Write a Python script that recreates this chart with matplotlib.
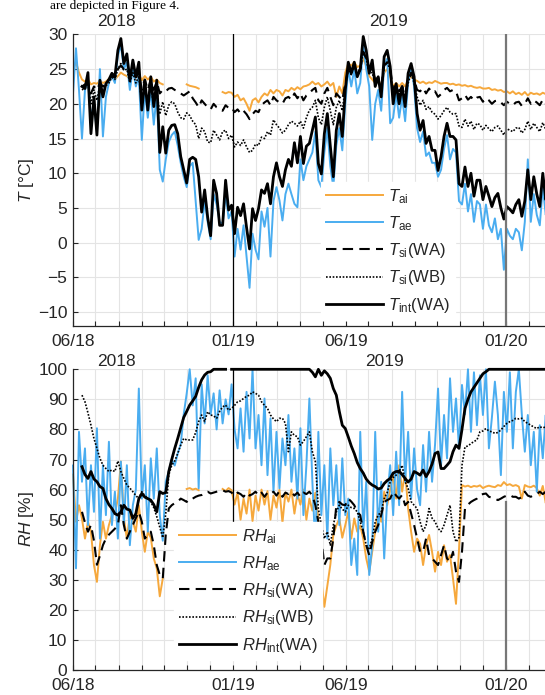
import numpy as np
import pandas as pd
import matplotlib
matplotlib.use("Agg")
import matplotlib.pyplot as plt
import matplotlib.dates as mdates

nan = np.nan

# one sample every 4 days, starting 1 June 2018
start_date = "2018-06-01"
n_pts = 161

# ---- temperatures [degC] ----
t_ai = [25.0, 26.0, 24.5, 23.5, 23.2, 23.5, 22.8, 23.0, 22.9, 23.3,
        23.0, 23.2, 23.6, 23.8, 23.5, 24.0, 24.5, 24.2, 24.0, 23.6,
        24.2, 23.8, 24.3, 23.4, 24.0, 23.5, 23.9, 23.2, 23.5, 23.0,
        22.8, nan, nan, nan, nan, nan, nan, nan, 22.8, 22.6,
        22.5, 22.4, 22.2, nan, nan, nan, nan, nan, nan, nan,
        21.7, 21.5, 21.7, 21.6, 21.0, 21.3, 20.5, 20.8, 20.0, 19.0,
        20.5, 20.8, 20.2, 21.0, 21.5, 21.2, 22.0, 21.5, 22.0, 21.8,
        21.2, 22.0, 21.8, 22.3, 22.0, 22.4, 22.1, 22.5, 22.6, 22.8,
        23.2, 22.8, 23.0, 22.5, 22.8, 23.2, 22.6, 23.0, 21.0, 22.5,
        21.5, 24.5, 25.8, 25.5, 26.0, 25.3, 25.5, 26.5, 25.5, 24.0,
        23.5, 23.0, 23.5, 22.5, 24.5, 25.0, 24.0, 22.5, 23.0, 22.5,
        23.0, 22.5, 23.5, 24.0, 23.5, 23.3, 23.0, 23.2, 22.9, 23.1,
        23.0, 23.3, 23.1, 22.9, 23.0, 23.0, 22.8, 22.9, 22.7, 22.8,
        22.6, 22.7, 22.5, 22.6, 22.4, 22.3, 22.4, 22.2, 22.2, 22.3,
        22.0, 22.1, 21.9, 22.0, 21.7, 21.8, 21.5, 21.8, 21.4, 21.6,
        21.3, 21.7, 21.2, 21.6, 21.4, 21.5, 21.3, 21.6, 21.4, 21.5, 21.3]

t_ae = [21.5, 28.0, 22.0, 15.0, 22.0, 23.5, 18.0, 20.0, 16.0, 25.0,
        15.3, 21.0, 23.0, 24.0, 23.0, 27.0, 28.5, 25.0, 26.0, 22.0,
        25.0, 22.5, 24.0, 14.8, 22.0, 18.0, 22.0, 17.0, 21.5, 10.5,
        8.8, 12.0, 14.5, 15.5, 16.0, 14.0, 11.5, 9.5, 8.0, 11.0,
        11.5, 6.0, 0.4, 2.0, 6.0, 3.0, 0.5, 7.0, 5.5, 3.0,
        2.7, 7.0, 3.5, 4.5, -2.0, 2.0, -1.0, 2.5, -2.0, -6.5,
        1.3, -1.0, -2.4, 4.5, 2.3, 5.0, -2.0, 6.0, 8.0, 6.1,
        3.2, 7.0, 8.5, 7.0, 5.6, 5.1, 12.0, 9.0, 11.0, 12.0,
        13.0, 16.0, 9.0, 8.0, 13.0, 16.5, 11.0, 8.0, 14.0, 16.5,
        13.3, 20.0, 25.0, 22.5, 25.0, 21.5, 23.0, 28.5, 25.0, 22.5,
        14.8, 20.0, 22.0, 19.0, 25.5, 26.5, 17.2, 18.0, 21.5, 18.0,
        21.0, 17.5, 23.0, 25.5, 22.5, 16.5, 14.5, 16.0, 12.5, 13.0,
        11.5, 11.5, 9.5, 10.5, 13.5, 15.5, 12.0, 13.5, 13.0, 6.0,
        5.5, 8.5, 4.5, 7.0, 3.0, 6.0, 5.5, 2.0, 5.5, 2.5,
        1.5, 3.5, 0.5, 2.0, -3.9, 2.0, 1.0, 0.5, 2.0, 1.5,
        -1.1, 3.0, 12.0, 3.0, 7.0, 4.0, 2.5, 8.0, 4.0, 7.0, 3.5]

t_si_wa = [nan, nan, nan, 22.5, 22.8, 23.0, 21.5, 22.5, 22.0, 23.0,
           22.5, 23.0, 23.5, 24.0, 23.8, 25.0, 25.5, 25.0, 25.2, 24.0,
           24.8, 23.8, 24.5, 22.0, 23.5, 22.0, 23.5, 22.0, 23.2, 21.5,
           22.0, 21.8, 22.2, 22.3, 22.0, 21.8, 21.5, 21.2, 21.5, 21.8,
           20.8, 20.2, 19.5, 20.5, 20.0, 19.5, 19.2, 20.0, 19.5, 19.3,
           19.0, 19.8, 19.4, 19.5, 18.8, 19.2, 18.6, 19.0, 18.5, 17.8,
           18.5, 19.0, 18.8, 19.8, 20.2, 20.5, 19.8, 21.0, 20.5, 20.2,
           20.0, 20.8, 21.0, 20.6, 21.5, 20.8, 21.5, 20.5, 21.2, 21.5,
           22.0, 22.3, 20.5, 20.0, 21.5, 22.3, 21.0, 19.8, 21.5, 21.0,
           20.5, 23.0, 25.0, 24.5, 25.5, 24.5, 25.0, 27.5, 26.5, 24.8,
           25.0, 23.5, 23.8, 22.5, 25.5, 26.0, 25.0, 22.0, 22.8, 21.8,
           22.5, 21.5, 23.5, 24.5, 23.5, 22.0, 21.8, 22.3, 21.5, 22.2,
           21.6, 21.8, 21.0, 21.4, 22.0, 22.3, 21.8, 22.0, 21.8, 20.5,
           20.8, 21.3, 20.6, 21.0, 20.5, 20.9, 21.0, 20.3, 20.8, 20.5,
           20.0, 20.4, 20.5, 20.2, 19.8, 20.3, 20.0, 19.8, 20.2, 20.3,
           19.7, 20.0, 20.8, 20.0, 20.5, 20.2, 19.8, 20.6, 20.0, 20.4, 20.0]

t_si_wb = [nan, nan, nan, 22.0, 22.3, 23.0, 20.0, 22.0, 20.5, 22.8,
           22.0, 22.6, 23.0, 23.8, 23.5, 25.0, 25.8, 24.8, 25.0, 23.0,
           24.5, 23.0, 24.0, 20.0, 22.8, 20.0, 22.5, 19.8, 22.0, 18.5,
           20.3, 18.3, 19.8, 20.3, 20.0, 18.8, 18.0, 17.8, 18.7, 18.3,
           17.5, 17.0, 15.0, 16.5, 16.0, 14.5, 14.4, 16.2, 15.5, 14.8,
           16.0, 16.2, 15.0, 15.5, 13.8, 14.5, 14.0, 14.8, 13.8, 13.0,
           13.3, 14.2, 14.0, 15.2, 15.0, 16.0, 15.5, 17.7, 17.0, 16.5,
           15.8, 16.2, 17.0, 17.5, 17.2, 16.8, 17.5, 16.5, 18.0, 19.1,
           19.5, 20.5, 18.0, 17.0, 19.5, 21.0, 19.0, 17.0, 19.5, 20.5,
           19.0, 22.5, 25.0, 24.2, 25.5, 24.0, 24.8, 27.5, 26.5, 24.5,
           24.5, 23.0, 23.5, 22.0, 25.3, 26.0, 24.8, 21.5, 22.5, 21.2,
           22.0, 21.0, 23.0, 24.3, 23.0, 21.0, 19.8, 20.5, 19.2, 19.6,
           18.8, 18.5, 17.8, 18.3, 19.0, 19.5, 18.8, 18.5, 18.6, 16.8,
           16.6, 17.8, 16.8, 17.5, 16.3, 17.2, 17.0, 16.2, 16.9, 16.4,
           16.0, 16.6, 16.8, 16.2, 15.5, 16.4, 16.2, 16.0, 16.5, 16.6,
           15.8, 16.3, 17.5, 16.3, 17.2, 16.6, 16.0, 17.3, 16.3, 16.9, 16.2]

t_int = [nan, nan, nan, 22.5, 22.2, 24.5, 15.7, 21.0, 15.5, 23.4,
         21.0, 22.9, 23.5, 24.4, 23.9, 27.7, 29.4, 25.8, 27.2, 23.4,
         26.3, 23.9, 26.0, 19.1, 23.4, 19.1, 23.9, 19.6, 23.4, 13.0,
         16.7, 12.9, 16.2, 16.9, 17.0, 15.7, 12.4, 10.5, 8.6, 12.0,
         12.3, 12.0, 9.5, 4.4, 7.6, 3.7, 1.0, 9.0, 7.1, 2.5,
         2.5, 9.0, 4.7, 5.4, 1.3, 5.1, 3.9, 5.6, 2.2, -0.9,
         4.9, 3.2, 4.9, 7.6, 7.1, 8.5, 5.6, 9.5, 11.5, 9.5,
         8.1, 10.5, 12.0, 11.0, 14.4, 11.5, 15.3, 11.4, 13.9, 14.3,
         16.2, 18.1, 11.4, 9.9, 15.7, 18.6, 13.9, 9.5, 16.2, 18.6,
         15.3, 22.0, 26.0, 24.4, 26.0, 23.9, 25.0, 29.7, 27.7, 24.4,
         26.3, 22.5, 23.9, 21.0, 26.8, 27.7, 25.4, 20.0, 22.9, 20.0,
         22.5, 19.6, 24.4, 25.8, 23.9, 18.6, 16.2, 17.6, 14.3, 15.3,
         13.3, 13.3, 10.4, 12.4, 15.3, 17.2, 15.3, 15.3, 14.8, 8.5,
         8.1, 10.9, 8.1, 10.0, 6.7, 9.0, 9.0, 6.2, 8.1, 6.7,
         5.2, 6.5, 7.1, 5.0, 3.4, 5.2, 4.8, 4.3, 5.5, 6.2,
         3.8, 6.0, 10.5, 6.2, 9.5, 7.0, 5.2, 10.0, 6.2, 8.5, 5.5]

# ---- relative humidity [%] ----
rh_ai = [65.0, 49.3, 54.8, 50.4, 43.7, 49.3, 46.0, 34.9, 29.3, 41.5,
         49.3, 43.7, 48.2, 51.5, 52.0, 57.0, 69.3, 50.4, 43.7, 51.5,
         49.3, 46.0, 54.8, 46.0, 39.3, 46.0, 44.0, 37.1, 33.8, 24.5,
         30.4, nan, nan, nan, nan, nan, nan, nan, 60.2, 60.5,
         60.0, 60.3, 59.8, nan, nan, nan, nan, nan, nan, nan,
         60.2, 59.5, 60.5, 59.8, 55.0, 59.0, 50.0, 57.0, 52.0, 60.0,
         49.5, 58.0, 53.0, 60.0, 55.0, 59.5, 50.0, 58.0, 54.0, 60.0,
         49.0, 59.0, 56.0, 60.0, 52.0, 58.5, 55.0, 60.0, 50.0, 57.0,
         53.0, 59.0, 50.0, 30.0, 21.0, 28.0, 35.0, 45.0, 48.0, 50.4,
         44.0, 48.2, 52.6, 43.7, 50.4, 46.0, 48.0, 43.7, 37.1, 32.7,
         39.3, 46.0, 53.7, 49.3, 59.3, 54.8, 60.0, 64.8, 57.0, 68.1,
         59.3, 66.0, 53.7, 46.0, 39.3, 43.7, 42.0, 34.9, 41.5, 44.9,
         39.3, 32.7, 39.3, 34.9, 41.5, 36.0, 38.2, 30.4, 22.0, 40.0,
         61.5, 61.0, 61.3, 60.8, 61.2, 61.0, 61.4, 60.5, 61.0, 61.3,
         61.0, 60.8, 61.5, 61.2, 62.5, 61.5, 61.8, 61.2, 61.5, 61.0,
         57.0, 61.5, 61.0, 60.8, 61.3, 60.5, 58.0, 61.2, 55.5, 60.8, 61.0]

rh_ae = [68.0, 33.8, 79.2, 62.6, 73.7, 48.2, 68.1, 52.6, 80.4, 43.7,
         68.1, 51.5, 75.9, 48.2, 59.3, 43.7, 69.3, 48.2, 68.1, 41.5,
         54.8, 60.0, 93.6, 57.0, 68.1, 46.0, 70.4, 57.0, 73.7, 51.5,
         43.0, 62.6, 66.0, 70.0, 68.0, 72.0, 75.0, 85.0, 92.0, 100.0,
         88.0, 97.0, 60.4, 95.0, 82.0, 98.0, 85.0, 92.0, 80.0, 93.0,
         82.0, 90.0, 85.0, 95.0, 80.0, 73.7, 87.0, 72.6, 92.5, 77.0,
         100.0, 73.7, 84.8, 68.1, 90.3, 64.8, 83.7, 59.3, 79.2, 60.4,
         77.0, 68.1, 84.8, 62.6, 73.7, 57.0, 80.4, 51.5, 68.1, 90.3,
         62.6, 40.4, 79.2, 51.5, 68.1, 43.7, 73.7, 54.8, 68.1, 48.2,
         70.4, 51.5, 57.0, 34.9, 43.7, 31.6, 79.2, 46.0, 62.6, 31.6,
         41.5, 79.2, 46.0, 62.6, 37.1, 57.0, 68.1, 51.5, 72.6, 54.8,
         92.5, 62.6, 79.2, 57.0, 73.7, 60.0, 54.8, 74.8, 59.3, 79.2,
         62.6, 75.0, 93.6, 68.1, 84.8, 70.4, 97.0, 79.2, 90.3, 73.7,
         94.8, 85.0, 100.0, 79.2, 99.0, 81.4, 98.0, 84.8, 100.0, 73.7,
         84.0, 95.9, 84.8, 64.8, 92.5, 79.2, 99.0, 73.7, 92.5, 100.0,
         85.0, 72.6, 84.8, 68.1, 79.2, 59.3, 81.4, 70.4, 84.8, 65.0, 78.0]

rh_si_wa = [nan, nan, nan, 52.6, 49.0, 46.0, 48.2, 43.0, 35.0, 38.0,
            41.5, 43.7, 45.0, 46.0, 47.0, 48.2, 54.8, 48.2, 43.7, 46.0,
            48.2, 50.5, 52.6, 49.3, 43.7, 45.0, 46.0, 41.5, 34.9, 31.6,
            30.4, 45.0, 53.7, 54.8, 55.5, 55.9, 57.0, 56.5, 55.9, 57.0,
            57.0, 57.6, 58.0, 58.2, 59.0, 59.3, 58.7, 59.0, 59.3, 59.6,
            59.8, 59.3, 59.5, 59.0, 58.0, 59.0, 58.5, 57.6, 59.0, 58.0,
            58.5, 59.3, 58.0, 59.0, 57.6, 59.0, 58.5, 59.3, 58.0, 59.5,
            57.6, 59.0, 58.5, 59.3, 58.0, 59.0, 57.6, 59.0, 58.5, 59.3,
            58.0, 54.8, 49.3, 43.7, 34.9, 37.1, 37.1, 43.7, 54.8, 55.9,
            55.0, 54.8, 57.0, 56.0, 54.8, 52.6, 51.5, 46.0, 41.5, 38.2,
            42.6, 46.0, 48.2, 51.5, 55.9, 56.5, 57.0, 59.3, 58.0, 57.0,
            58.2, 54.8, 55.9, 52.0, 48.2, 43.7, 39.3, 39.3, 43.7, 38.2,
            37.1, 36.0, 34.9, 38.2, 41.5, 37.1, 36.0, 39.3, 32.7, 29.3,
            39.3, 53.7, 55.0, 55.9, 56.5, 57.0, 58.2, 58.5, 58.7, 57.6,
            57.3, 57.0, 56.5, 57.0, 57.6, 58.0, 58.2, 57.6, 57.6, 57.0,
            57.5, 59.3, 58.0, 57.6, 58.2, 58.5, 59.3, 58.5, 59.3, 58.8, 59.0]

rh_si_wb = [nan, nan, nan, 91.4, 89.2, 85.5, 81.4, 77.0, 73.7, 70.4,
            68.1, 67.0, 66.0, 66.5, 66.0, 69.5, 66.0, 63.7, 61.5, 60.5,
            59.3, 58.0, 57.0, 59.3, 58.0, 57.0, 55.9, 54.0, 51.0, 47.5,
            44.0, 52.0, 64.8, 68.1, 69.5, 72.0, 74.8, 77.0, 76.5, 76.5,
            76.5, 79.0, 82.6, 84.8, 82.6, 85.9, 84.8, 84.5, 83.7, 86.0,
            87.5, 88.1, 86.4, 87.0, 88.0, 89.2, 89.5, 90.3, 91.0, 91.4,
            92.5, 92.0, 91.4, 89.2, 88.0, 87.0, 84.8, 83.5, 82.6, 83.7,
            83.7, 82.0, 72.6, 79.2, 78.0, 77.6, 74.8, 76.0, 77.6, 79.2,
            72.6, 69.3, 53.7, 48.2, 43.7, 46.0, 41.5, 48.2, 52.6, 54.8,
            53.5, 52.6, 54.8, 54.0, 53.7, 52.6, 49.3, 46.0, 41.5, 40.4,
            43.7, 49.3, 51.5, 52.6, 57.0, 59.0, 62.6, 64.0, 64.8, 66.0,
            68.1, 62.6, 60.4, 56.0, 54.8, 53.7, 49.3, 46.0, 48.2, 53.7,
            50.5, 49.3, 47.1, 46.0, 48.2, 51.5, 54.8, 46.0, 42.6, 44.0,
            68.1, 74.2, 74.5, 75.3, 76.0, 76.5, 79.2, 79.5, 80.3, 79.5,
            79.2, 78.7, 79.0, 79.8, 81.0, 82.0, 82.6, 83.0, 83.7, 83.5,
            83.7, 82.6, 82.0, 81.4, 80.8, 80.3, 80.9, 80.5, 80.9, 80.5, 81.0]

rh_int = ([nan, nan, nan, 67.6, 65.0, 63.7, 66.0, 63.5, 62.6, 61.0,
           60.4, 57.0, 55.0, 53.7, 52.0, 51.5, 52.6, 54.8, 53.5, 53.2,
           50.4, 52.0, 57.0, 58.7, 57.5, 57.0, 56.5, 55.0, 52.6, 59.3,
           58.7, 59.0, 66.0, 70.0, 73.7, 77.0, 80.5, 84.0, 86.0, 88.1,
           89.5, 91.0, 94.0, 96.5, 98.1, 99.0, 99.2, 100, 100, 100,
           100, 100, nan, 100, 100, 100, 100, 100, 100, 100]
          + [100] * 20
          + [99.0, 97.5, 100, 98.0, 99.5, 98.5, 97.0, 93.6, 91.4, 86.0,
             81.4, 80.3, 77.5, 74.5, 72.0, 69.0, 67.0, 65.5, 63.5, 62.3,
             61.5, 61.0, 60.2, 60.5, 62.0, 63.0, 63.7, 65.5, 66.0, 66.1,
             65.0, 63.7, 62.5, 63.5, 66.0, 65.5, 64.8, 66.5, 64.3, 66.0,
             68.5, 72.0, 72.5, 67.0, 67.0, 68.1, 69.3, 72.6, 74.8, 73.7,
             80.0, 87.0, 90.0, 92.5, 94.0, 95.5, 97.0, 98.5, 99.2, 100]
          + [100] * 21)

t_labels = [r"$T_{\mathrm{ai}}$", r"$T_{\mathrm{ae}}$", r"$T_{\mathrm{si}}$(WA)",
            r"$T_{\mathrm{si}}$(WB)", r"$T_{\mathrm{int}}$(WA)"]
rh_labels = [r"$RH_{\mathrm{ai}}$", r"$RH_{\mathrm{ae}}$", r"$RH_{\mathrm{si}}$(WA)",
             r"$RH_{\mathrm{si}}$(WB)", r"$RH_{\mathrm{int}}$(WA)"]

dates = pd.date_range(start_date, periods=n_pts, freq="4D")

plt.rcParams["font.family"] = ["Liberation Sans", "DejaVu Sans"]
plt.rcParams["mathtext.fontset"] = "custom"
plt.rcParams["mathtext.rm"] = "Liberation Sans"
plt.rcParams["mathtext.it"] = "Liberation Sans:italic"

W, H = 545, 695
fig = plt.figure(figsize=(W / 100, H / 100), dpi=100)


def px_box(x0, y0, x1, y1):
    return [x0 / W, 1 - y1 / H, (x1 - x0) / W, (y1 - y0) / H]


ax1 = fig.add_axes(px_box(73, 34.4, 551, 326))
ax2 = fig.add_axes(px_box(73, 369.3, 551, 670))

orange = "#F6A83C"
blue = "#4AADF0"
dark = "#262626"
fs = 12.5
styles = [dict(color=orange, lw=1.4),
          dict(color=blue, lw=1.4),
          dict(color="k", lw=1.5, dashes=(5, 3)),
          dict(color="k", lw=1.2, linestyle=(0, (1, 1))),
          dict(color="k", lw=2.0)]

for ax, series, labels in [(ax1, [t_ai, t_ae, t_si_wa, t_si_wb, t_int], t_labels),
                           (ax2, [rh_ai, rh_ae, rh_si_wa, rh_si_wb, rh_int], rh_labels)]:
    for vals, st, lab in zip(series, styles, labels):
        ax.plot(dates, vals, label=lab, clip_on=(ax is ax1), **st)

    ax.set_xlim(pd.Timestamp("2018-06-01"), pd.Timestamp("2020-03-01"))
    ax.xaxis.set_major_locator(mdates.MonthLocator(bymonth=[1, 6]))
    ax.xaxis.set_minor_locator(mdates.MonthLocator())
    ax.xaxis.set_major_formatter(mdates.DateFormatter("%m/%y"))
    ax.grid(True, axis="x", which="both", color="#e4e4e4", lw=0.8)
    ax.grid(True, axis="y", which="major", color="#e4e4e4", lw=0.8)
    ax.set_axisbelow(True)
    for s in ["top", "right"]:
        ax.spines[s].set_visible(False)
    for s in ["left", "bottom"]:
        ax.spines[s].set_color(dark)
        ax.spines[s].set_linewidth(0.9)
    ax.tick_params(which="both", direction="in", length=3.5, width=0.8,
                   colors=dark, labelsize=fs)
    ax.tick_params(axis="x", pad=6)
    ax.tick_params(axis="y", pad=4)

ax1.set_ylim(-12, 30)
ax1.set_yticks(range(-10, 31, 5))
ax2.set_ylim(0, 100)
ax2.set_yticks(range(0, 101, 10))

# year separators
ax1.axvline(pd.Timestamp("2019-01-01"), color="k", lw=0.9, zorder=4)
ax1.axvline(pd.Timestamp("2020-01-01"), color="#777777", lw=1.6, zorder=4)
ax2.axvline(pd.Timestamp("2019-01-01"), ymin=0.49, ymax=1, color="k", lw=0.9, zorder=4)
ax2.axvline(pd.Timestamp("2020-01-01"), ymin=0, ymax=0.56, color="#777777", lw=1.6, zorder=4)

leg_kw = dict(loc="upper left", bbox_transform=fig.transFigure, fontsize=12,
              frameon=True, fancybox=False, framealpha=1, edgecolor="white",
              facecolor="white", borderaxespad=0, borderpad=0.3,
              handlelength=3.4, handletextpad=0.35, labelspacing=0.5)
leg1 = ax1.legend(bbox_to_anchor=(321 / W, 1 - 182 / H), **leg_kw)
leg2 = ax2.legend(bbox_to_anchor=(174 / W, 1 - 522 / H), **leg_kw)
for leg in (leg1, leg2):
    for t in leg.get_texts():
        t.set_color(dark)

# year captions
for x, y, s in [(116, 22, "2018"), (388, 22, "2019"),
                (116, 361, "2018"), (385, 361, "2019")]:
    fig.text(x / W, 1 - y / H, s, ha="center", va="center", fontsize=fs, color=dark)

fig.text(27 / W, 1 - 180 / H, r"$T$ [°C]", rotation=90, ha="center", va="center",
         fontsize=fs, color=dark)
fig.text(26 / W, 1 - 519 / H, r"$RH$ [%]", rotation=90, ha="center", va="center",
         fontsize=fs, color=dark)

# end of the paper's text line above the figure
fig.text(50 / W, 1 - 9 / H, "are depicted in Figure 4.", family="Liberation Serif",
         fontsize=9.5, va="baseline", ha="left", color="k")

fig.savefig("out.png", dpi=100)
